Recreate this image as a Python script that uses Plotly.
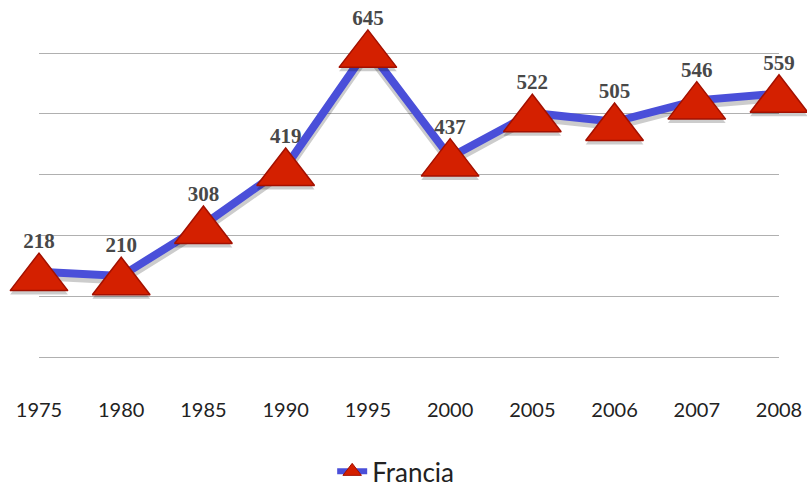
import plotly.graph_objects as go

years = ["1975", "1980", "1985", "1990", "1995", "2000", "2005", "2006", "2007", "2008"]
francia = [218, 210, 308, 419, 645, 437, 522, 505, 546, 559]
series_name = "Francia"
grid_values = [55, 171, 288, 404, 520, 635]

xs = list(range(len(years)))
y_range = [47.5, 650.0]
W, H = 807, 488
m_top, m_bottom = 45.9, 127
plot_h = H - m_top - m_bottom
k = plot_h / (y_range[1] - y_range[0])  # px per unit


def shifted(px_down):
    d = px_down / k
    return [y_range[0] + d, y_range[1] + d]


fig = go.Figure()
# line shadow
fig.add_trace(go.Scatter(x=xs, y=francia, mode="lines", yaxis="y",
                         line=dict(color="rgba(0,0,0,0.2)", width=9),
                         showlegend=False, hoverinfo="skip"))
# main line
fig.add_trace(go.Scatter(x=xs, y=francia, mode="lines", yaxis="y2",
                         line=dict(color="#4a4fd9", width=8),
                         showlegend=False))
# data labels
fig.add_trace(go.Scatter(x=xs, y=francia, mode="markers+text", yaxis="y2",
                         marker=dict(size=28, opacity=0),
                         text=[str(v) for v in francia], textposition="top center",
                         textfont=dict(family="Liberation Serif", size=21, color="#484848", weight="bold"),
                         cliponaxis=False, showlegend=False, hoverinfo="skip"))
# marker shadow
fig.add_trace(go.Scatter(x=xs, y=francia, mode="markers", yaxis="y3",
                         marker=dict(symbol="triangle-up", size=50, color="rgba(0,0,0,0.2)",
                                     line=dict(width=0)),
                         cliponaxis=False, showlegend=False, hoverinfo="skip"))
# markers
fig.add_trace(go.Scatter(x=xs, y=francia, mode="markers", yaxis="y4",
                         marker=dict(symbol="triangle-up", size=50, color="#d42000",
                                     line=dict(color="#a31000", width=1.5)),
                         cliponaxis=False, showlegend=False))
# legend entry
fig.add_trace(go.Scatter(x=[None], y=[None], mode="lines+markers", name=series_name,
                         line=dict(color="#4a4fd9", width=6),
                         marker=dict(symbol="triangle-up", size=16, color="#d42000",
                                     line=dict(color="#a31000", width=1))))

hidden = dict(showticklabels=False, showgrid=False, zeroline=False, showline=False,
              overlaying="y")

fig.update_layout(
    width=W, height=H,
    margin=dict(l=38.75, r=28, t=m_top, b=m_bottom, autoexpand=False),
    paper_bgcolor="white", plot_bgcolor="white",
    showlegend=True,
    legend=dict(orientation="h", x=0.482, xanchor="center", y=-(471.5 - (H - m_bottom)) / plot_h,
                yanchor="middle",
                font=dict(family="Lato", size=26, color="#222222"),
                bgcolor="rgba(0,0,0,0)"),
    xaxis=dict(
        range=[0, 9], tickmode="array",
        tickvals=xs, ticktext=years,
        showgrid=False, zeroline=False, showline=False,
        tickfont=dict(family="Lato", size=20, color="#222222"),
        ticklabelstandoff=35,
    ),
    yaxis=dict(range=shifted(4), showticklabels=False, showgrid=False,
               zeroline=False, showline=False),
    yaxis2=dict(range=y_range, tickmode="array", tickvals=grid_values,
                showticklabels=False, showgrid=True, gridcolor="#b0b0b0", gridwidth=1,
                zeroline=False, showline=False, overlaying="y"),
    yaxis3=dict(range=shifted(6.25 + 4), **hidden),
    yaxis4=dict(range=shifted(6.25), **hidden),
)

fig.write_html("out.html", config={"displayModeBar": False},
               post_script="document.body.style.margin='0';")
